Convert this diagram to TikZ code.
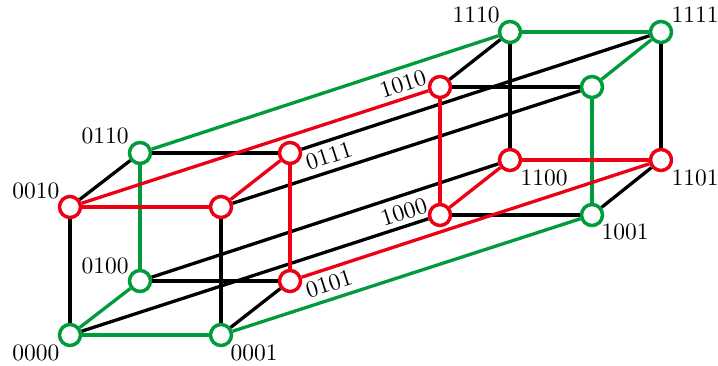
\documentclass[tikz,border=0pt]{standalone}
\usepackage{tikz}
\definecolor{hgreen}{RGB}{0,155,58}
\definecolor{hred}{RGB}{235,0,20}
\newcommand{\vlab}[1]{\scalebox{2.35}{#1}}
\tikzset{
  vtx/.style={circle, draw, fill=white, line width=3.5pt, minimum size=21pt, inner sep=0pt},
  gv/.style={vtx, draw=hgreen},
  rv/.style={vtx, draw=hred},
  bed/.style={line width=3.3pt, black},
  ged/.style={line width=3.3pt, hgreen},
  red/.style={line width=3.3pt, hred},
  lbl/.style={inner sep=0pt, font=\normalsize},
  rlbl/.style={lbl, rotate=18},
}
\begin{document}
\begin{tikzpicture}[x=1pt, y=-1pt]
  \useasboundingbox (0,0) rectangle (718,366);
  % vertices
  \node[gv] (n0000) at (70,335) {};
  \node[gv] (n0001) at (221,335) {};
  \node[rv] (n0010) at (70,207) {};
  \node[rv] (n0011) at (221,207) {};
  \node[gv] (n0100) at (140,281) {};
  \node[rv] (n0101) at (290,281) {};
  \node[gv] (n0110) at (140,153) {};
  \node[rv] (n0111) at (290,153) {};
  \node[rv] (n1000) at (440,215) {};
  \node[gv] (n1001) at (592,215) {};
  \node[rv] (n1010) at (440,87) {};
  \node[gv] (n1011) at (592,87) {};
  \node[rv] (n1100) at (510,160) {};
  \node[rv] (n1101) at (661,160) {};
  \node[gv] (n1110) at (510,32) {};
  \node[gv] (n1111) at (661,32) {};
  % black edges
  \draw[bed] (n0000)--(n0010); \draw[bed] (n0000)--(n1000);
  \draw[bed] (n0001)--(n0011); \draw[bed] (n0001)--(n0101);
  \draw[bed] (n0010)--(n0110); \draw[bed] (n0011)--(n1011);
  \draw[bed] (n0100)--(n0101); \draw[bed] (n0100)--(n1100);
  \draw[bed] (n0110)--(n0111); \draw[bed] (n0111)--(n1111);
  \draw[bed] (n1000)--(n1001); \draw[bed] (n1001)--(n1101);
  \draw[bed] (n1010)--(n1011); \draw[bed] (n1010)--(n1110);
  \draw[bed] (n1100)--(n1110); \draw[bed] (n1101)--(n1111);
  % green cycle
  \draw[ged] (n0000)--(n0001); \draw[ged] (n0000)--(n0100);
  \draw[ged] (n0100)--(n0110); \draw[ged] (n0110)--(n1110);
  \draw[ged] (n0001)--(n1001); \draw[ged] (n1001)--(n1011);
  \draw[ged] (n1011)--(n1111); \draw[ged] (n1110)--(n1111);
  % red cycle
  \draw[red] (n0010)--(n0011); \draw[red] (n0011)--(n0111);
  \draw[red] (n0111)--(n0101); \draw[red] (n0101)--(n1101);
  \draw[red] (n0010)--(n1010); \draw[red] (n1010)--(n1000);
  \draw[red] (n1000)--(n1100); \draw[red] (n1100)--(n1101);
  % labels
  \node[lbl] (l0000) at ([shift={(-34,18)}]n0000) {\vlab{0000}};
  \node[lbl] (l0001) at ([shift={(33,18)}]n0001) {\vlab{0001}};
  \node[lbl] (l0010) at ([shift={(-34,-16)}]n0010) {\vlab{0010}};
  \node[lbl] (l0100) at ([shift={(-35,-15)}]n0100) {\vlab{0100}};
  \node[lbl] (l0110) at ([shift={(-35,-17)}]n0110) {\vlab{0110}};
  \node[rlbl] (l0101) at ([shift={(39,3)}]n0101) {\vlab{0101}};
  \node[rlbl] (l0111) at ([shift={(39,3)}]n0111) {\vlab{0111}};
  \node[rlbl] (l1000) at ([shift={(-36,-3)}]n1000) {\vlab{1000}};
  \node[rlbl] (l1010) at ([shift={(-37,-3)}]n1010) {\vlab{1010}};
  \node[lbl] (l1001) at ([shift={(33,17)}]n1001) {\vlab{1001}};
  \node[lbl] (l1100) at ([shift={(34,18)}]n1100) {\vlab{1100}};
  \node[lbl] (l1101) at ([shift={(34,18)}]n1101) {\vlab{1101}};
  \node[lbl] (l1110) at ([shift={(-34,-17)}]n1110) {\vlab{1110}};
  \node[lbl] (l1111) at ([shift={(34,-17)}]n1111) {\vlab{1111}};
\end{tikzpicture}
\end{document}
